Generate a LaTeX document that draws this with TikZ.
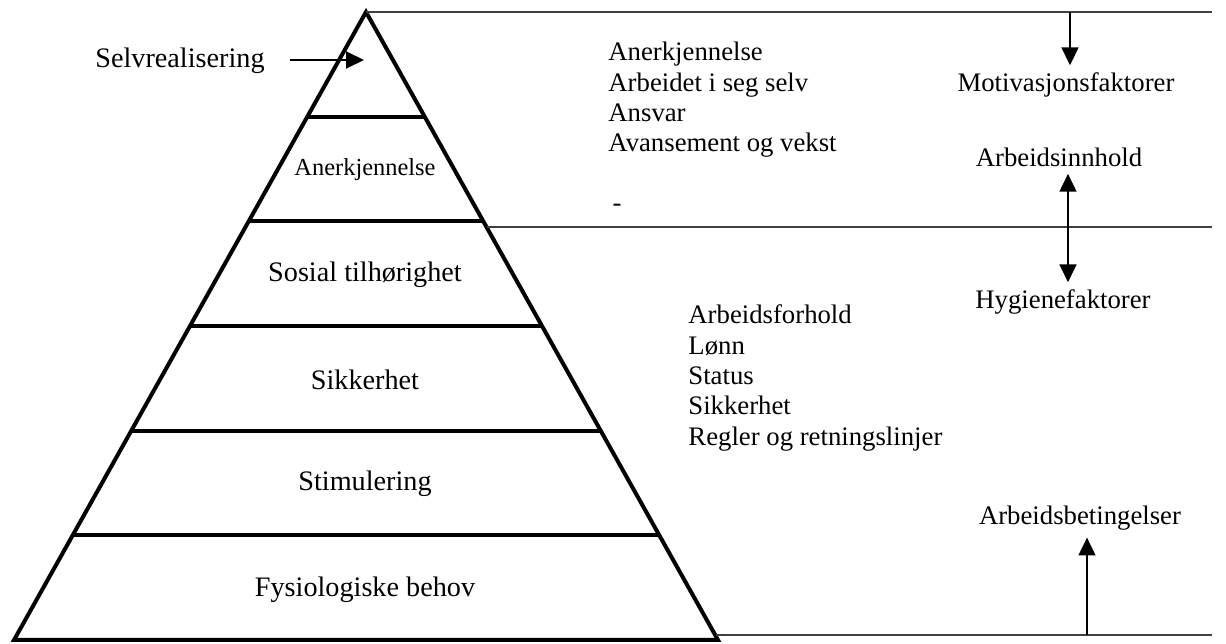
\documentclass[tikz,border=0pt]{standalone}
\usepackage{fontspec}
\setmainfont{Liberation Serif}
\usetikzlibrary{calc,arrows.meta}
\tikzset{
  pyr/.style={line width=1.9pt,line join=miter},
  thinline/.style={line width=0.7pt,draw=black!75},
  arr/.style={line width=1pt,-{Triangle[length=8.5pt,width=8pt]}},
  dblarr/.style={line width=1pt,{Triangle[length=8.5pt,width=8pt]}-{Triangle[length=8.5pt,width=8pt]}},
  lbl/.style={font=\fontsize{12.7}{14.4}\selectfont},
  level/.style={font=\fontsize{13.4}{15}\selectfont},
  lst/.style={lbl,anchor=west,align=left,inner sep=0pt}
}

\begin{document}
\begin{tikzpicture}[x=0.0167cm,y=-0.0167cm]
\useasboundingbox (0,0) rectangle (1226,644);
% pyramid
\coordinate (apex) at (366,12);
\coordinate (bl) at (14,640);
\coordinate (br) at (718,640);
\draw[pyr] (apex) -- (bl) -- (br) -- cycle;
\foreach \k in {1,...,5}
  \draw[pyr] ($(apex)!\k/6!(bl)$) -- ($(apex)!\k/6!(br)$);
\draw(365,170) node[font=\fontsize{11.6}{13}\selectfont] (anerk) {Anerkjennelse};
\draw(365,275) node[level] (sosial) {Sosial tilhørighet};
\draw(365,380) node[level] (sikker) {Sikkerhet};
\draw(365,484) node[level] (stimu) {Stimulering};
\draw(365,590) node[level] (fysio) {Fysiologiske behov};
% selvrealisering
\draw(180,61) node[level] (selv) {Selvrealisering};
\coordinate (selvtip) at (364,60);
\draw[arr,shorten <=0.3cm] (selv.east |- selvtip) -- (selvtip);
% right side lines
\draw[thinline] (apex) -- (1212,12);
\draw[thinline] (487,227) -- (1212,227);
\draw[thinline] (716,635) -- (1212,635);
% lists
\draw(608,100) node[lst] (motivlist) {Anerkjennelse\\Arbeidet i seg selv\\Ansvar\\Avansement og vekst};
\draw(617,208) node[lbl] (dash) {-};
\draw(688,378) node[lst] (hygilist) {Arbeidsforhold\\Lønn\\Status\\Sikkerhet\\Regler og retningslinjer};
% factors
\draw(1066,85) node[lbl] (motiv) {Motivasjonsfaktorer};
\draw(1059,157) node[lbl] (innhold) {Arbeidsinnhold};
\draw(1063,302) node[lbl] (hygiene) {Hygienefaktorer};
\draw(1080,518) node[lbl] (beting) {Arbeidsbetingelser};
\coordinate (mtop) at (1070,12);
\coordinate (dblx) at (1068,0);
\coordinate (bbot) at (1087,635);
\draw[arr] (mtop) -- (mtop |- motiv.north);
\draw[dblarr] (innhold.south -| dblx) -- (hygiene.north -| dblx);
\draw[arr] (bbot) -- (bbot |- beting.south);
\end{tikzpicture}
\end{document}
